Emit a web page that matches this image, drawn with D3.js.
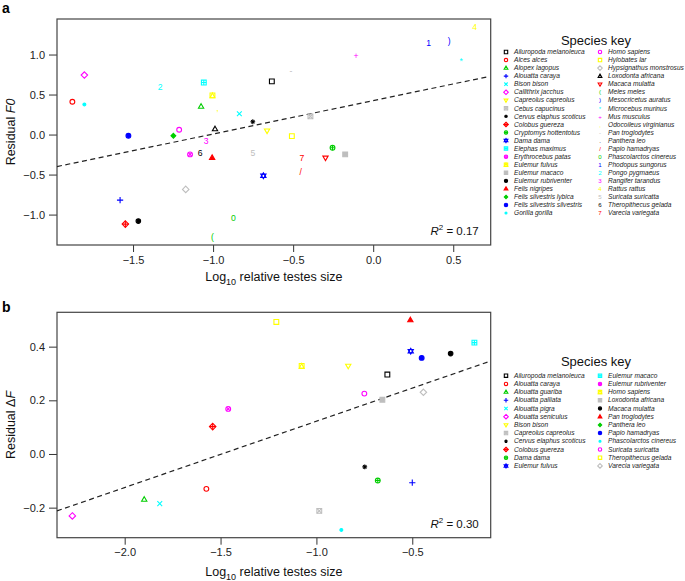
<!DOCTYPE html>
<html><head><meta charset="utf-8">
<script src="https://cdn.jsdelivr.net/npm/d3@7"></script>
<style>body{margin:0;background:#fff}svg{font-family:"Liberation Sans",Arial,sans-serif}</style>
</head><body>
<svg id="c" width="685" height="581"></svg>
<script>
// ---------- Panel a data ----------
const speciesA = ["Ailuropoda melanoleuca","Alces alces","Alopex lagopus","Alouatta caraya","Bison bison","Callithrix jacchus","Capreolus capreolus","Cebus capucinus","Cervus elaphus scoticus","Colobus guereza","Cryptomys hottentotus","Dama dama","Elephas maximus","Erythrocebus patas","Eulemur fulvus","Eulemur macaco","Eulemur rubriventer","Felis nigripes","Felis silvestris lybica","Felis silvestris silvestris","Gorilla gorilla","Homo sapiens","Hylobates lar","Hypsignathus monstrosus","Loxodonta africana","Macaca mulatta","Meles meles","Mesocricetus auratus","Microcebus murinus","Mus musculus","Odocoileus virginianus","Pan troglodytes","Panthera leo","Papio hamadryas","Phascolarctos cinereus","Phodopus sungorus","Pongo pygmaeus","Rangifer tarandus","Rattus rattus","Suricata suricatta","Theropithecus gelada","Varecia variegata"];
const testesA = [-0.633,-1.879,-1.075,-1.581,-0.836,-1.804,-0.663,-0.392,-0.752,-1.548,-0.254,-0.686,-1.058,-1.144,-1.004,-0.175,-1.467,-1.006,-1.248,-1.529,-1.804,-1.212,-0.508,-1.171,-0.988,-0.298,-1.004,0.475,0.550,-0.108,-0.973,-0.513,null,-0.452,-0.873,0.346,-1.331,-1.044,0.633,-0.752,-1.081,-0.446];
const residF0 = [0.665,0.410,0.350,-0.819,0.260,0.744,0.048,0.227,0.160,-1.119,-0.165,-0.515,0.650,-0.248,0.490,-0.248,-1.081,-0.290,-0.015,-0.015,0.377,0.060,-0.019,-0.685,0.069,-0.290,-1.277,1.170,0.915,0.985,0.330,0.800,null,-0.473,-1.048,1.140,0.600,-0.085,1.340,-0.227,-0.227,-0.290];
const xTicksA = [-1.5,-1.0,-0.5,0.0,0.5];
const yTicksA = [-1.0,-0.5,0.0,0.5,1.0];
const fitA = {intercept:0.424, slope:0.417};
const r2A = "0.17";

// ---------- Panel b data ----------
const speciesB = ["Ailuropoda melanoleuca","Alouatta caraya","Alouatta guariba","Alouatta palliata","Alouatta pigra","Alouatta seniculus","Bison bison","Capreolus capreolus","Cervus elaphus scoticus","Colobus guereza","Dama dama","Eulemur fulvus","Eulemur macaco","Eulemur rubriventer","Homo sapiens","Loxodonta africana","Macaca mulatta","Pan troglodytes","Panthera leo","Papio hamadryas","Phascolarctos cinereus","Suricata suricatta","Theropithecus gelada","Varecia variegata"];
const testesB = [-0.630,-1.574,-1.898,-0.500,-1.817,-2.273,-0.834,-0.985,-0.748,-1.541,-0.680,-0.508,-0.176,-1.460,-1.077,-0.656,-0.300,-0.510,null,-0.451,-0.870,-0.750,-1.209,-0.442];
const residDF = [0.296,-0.130,-0.170,-0.107,-0.185,-0.231,0.328,-0.212,-0.048,0.102,-0.099,0.383,0.415,0.168,0.328,0.202,0.374,0.499,null,0.358,-0.283,0.225,0.492,0.230];
const xTicksB = [-2.0,-1.5,-1.0,-0.5];
const yTicksB = [-0.2,0.0,0.2,0.4];
const fitB = {intercept:0.369, slope:0.247};
const r2B = "0.30";

const palette = ["#000000","#FF0000","#00CD00","#0000FF","#00FFFF","#FF00FF","#FFFF00","#BEBEBE"];

const svg = d3.select("#c");

function sym(g, i, x, y, r, col){
  const s = g.append("g").attr("transform",`translate(${x},${y})`)
    .attr("stroke",col).attr("fill","none").attr("stroke-width",1.1);
  const sq = `M${-r},${-r}H${r}V${r}H${-r}Z`;
  const tu = `M0,${-r*1.2}L${r*1.1},${r*0.7}L${-r*1.1},${r*0.7}Z`;
  const td = `M0,${r*1.2}L${r*1.1},${-r*0.7}L${-r*1.1},${-r*0.7}Z`;
  const dm = `M0,${-r*1.35}L${r*1.35},0L0,${r*1.35}L${-r*1.35},0Z`;
  const pl = `M${-r*1.3},0H${r*1.3}M0,${-r*1.3}V${r*1.3}`;
  const pl1 = `M${-r},0H${r}M0,${-r}V${r}`;
  const xx = `M${-r},${-r}L${r},${r}M${-r},${r}L${r},${-r}`;
  const xx7 = `M${-r*0.7},${-r*0.7}L${r*0.7},${r*0.7}M${-r*0.7},${r*0.7}L${r*0.7},${-r*0.7}`;
  const p = d => s.append("path").attr("d", d);
  const c = (rr) => s.append("circle").attr("r", rr);
  if (i >= 26) {
    s.append("text").text(String.fromCharCode(40 + i - 26))
      .attr("stroke","none").attr("fill",col)
      .attr("font-size", r*3.6).attr("text-anchor","middle").attr("dy","0.35em");
    return;
  }
  switch(i){
    case 0: case 22: p(sq); break;
    case 1: case 21: c(r); break;
    case 2: case 24: p(tu); break;
    case 3: p(pl); break;
    case 4: p(xx); break;
    case 5: case 23: p(dm); break;
    case 6: case 25: p(td); break;
    case 7: p(sq); p(xx); break;
    case 8: p(pl1); p(xx7); break;
    case 9: p(dm); p(`M${-r*1.35},0H${r*1.35}M0,${-r*1.35}V${r*1.35}`); break;
    case 10: c(r); p(pl1); break;
    case 11: p(tu); p(td); break;
    case 12: p(sq); p(pl1); break;
    case 13: c(r); p(xx7); break;
    case 14: p(sq); p(`M0,${-r}L${r},${r}L${-r},${r}Z`); break;
    case 15: p(sq).attr("fill",col); break;
    case 16: c(r*0.95).attr("fill",col); break;
    case 17: p(tu).attr("fill",col); break;
    case 18: p(`M0,${-r}L${r},0L0,${r}L${-r},0Z`).attr("fill",col); break;
    case 19: c(r).attr("fill",col); break;
    case 20: c(r*0.6).attr("fill",col); break;
  }
}

function panel(o){
  const x = d3.scaleLinear().domain(o.xdom).range([o.left,o.right]);
  const y = d3.scaleLinear().domain(o.ydom).range([o.bottom,o.top]);
  const g = svg.append("g");
  const fmt = d3.format(".1f");
  const ax = g.append("g").attr("transform",`translate(0,${o.bottom})`)
    .call(d3.axisBottom(x).tickValues(o.xticks).tickFormat(fmt).tickSize(7).tickPadding(4));
  const ay = g.append("g").attr("transform",`translate(${o.left},0)`)
    .call(d3.axisLeft(y).tickValues(o.yticks).tickFormat(fmt).tickSize(8).tickPadding(4));
  [ax,ay].forEach(a=>{
    a.select(".domain").remove();
    a.selectAll("line").attr("stroke","#333").attr("stroke-width",1);
    a.selectAll("text").attr("font-size",11).attr("fill","#222").attr("font-family","Liberation Sans, Arial, sans-serif");
  });
  g.append("rect").attr("x",o.left).attr("y",o.top).attr("width",o.right-o.left).attr("height",o.bottom-o.top)
    .attr("fill","none").attr("stroke","#444").attr("stroke-width",1.2);
  const x0 = o.xdom[0], x1 = x.invert(x(o.xdom[1])-3);
  g.append("line").attr("x1",x(x0)).attr("y1",y(o.fit.intercept+o.fit.slope*x0))
    .attr("x2",x(x1)).attr("y2",y(o.fit.intercept+o.fit.slope*x1))
    .attr("stroke","#222").attr("stroke-width",1.2).attr("stroke-dasharray","5,3.5");
  o.species.forEach((s,i)=>{
    if (o.xs[i]==null || o.ys[i]==null) return;
    sym(g, i, x(o.xs[i]), y(o.ys[i]), 2.4, palette[i%8]);
  });
  const t = g.append("text").attr("x",o.right-12).attr("y",o.bottom-10).attr("text-anchor","end")
    .attr("font-size",11.5).attr("fill","#111");
  t.append("tspan").attr("font-style","italic").text("R");
  t.append("tspan").attr("font-size",8).attr("dy",-5).text("2");
  t.append("tspan").attr("dy",5).text(" = " + o.r2);
  const xt = g.append("text").attr("x",(o.left+o.right)/2).attr("y",o.xtitleY).attr("text-anchor","middle")
    .attr("font-size",12.5).attr("fill","#111");
  xt.append("tspan").text("Log");
  xt.append("tspan").attr("font-size",9).attr("dy",4).text("10");
  xt.append("tspan").attr("dy",-4).text(" relative testes size");
  const yt = g.append("text").attr("transform",`translate(${o.ytitleX},${(o.top+o.bottom)/2}) rotate(-90)`)
    .attr("text-anchor","middle").attr("font-size",12.5).attr("fill","#111");
  yt.append("tspan").text("Residual " + o.ypre);
  yt.append("tspan").attr("font-style","italic").text(o.yital);
  g.append("text").attr("x",2).attr("y",o.labelY).attr("font-weight","bold").attr("font-size",14).text(o.label);
  const lg = g.append("g");
  lg.append("text").attr("x",596).attr("y",o.legTitleY).attr("text-anchor","middle").attr("font-size",13).attr("fill","#111").text("Species key");
  const half = Math.ceil(o.species.length/2);
  o.species.forEach((s,i)=>{
    const col = i < half ? 0 : 1;
    const row = i < half ? i : i - half;
    const sx = col===0 ? 506 : 600;
    const sy = o.legY0 + row*o.legStep;
    sym(lg, i, sx, sy, 1.7, palette[i%8]);
    lg.append("text").attr("x",sx+8).attr("y",sy).attr("dy","0.33em").attr("font-size",6.6)
      .attr("font-style","italic").attr("fill","#222").text(s);
  });
}

panel({species:speciesA, xs:testesA, ys:residF0, xdom:[-1.975,0.734], ydom:[-1.38,1.444],
  left:57, right:490.7, top:19, bottom:245, xticks:xTicksA, yticks:yTicksA, fit:fitA, r2:r2A,
  xtitleY:281, ytitleX:15, ypre:"", yital:"F0", label:"a", labelY:13,
  legTitleY:45, legY0:52, legStep:8.05});
panel({species:speciesB, xs:testesB, ys:residDF, xdom:[-2.353,-0.091], ydom:[-0.312,0.528],
  left:57, right:490.7, top:312.3, bottom:537.7, xticks:xTicksB, yticks:yTicksB, fit:fitB, r2:r2B,
  xtitleY:576, ytitleX:15, ypre:"Δ", yital:"F", label:"b", labelY:312,
  legTitleY:366, legY0:375.7, legStep:8.2});
</script>
</body></html>
